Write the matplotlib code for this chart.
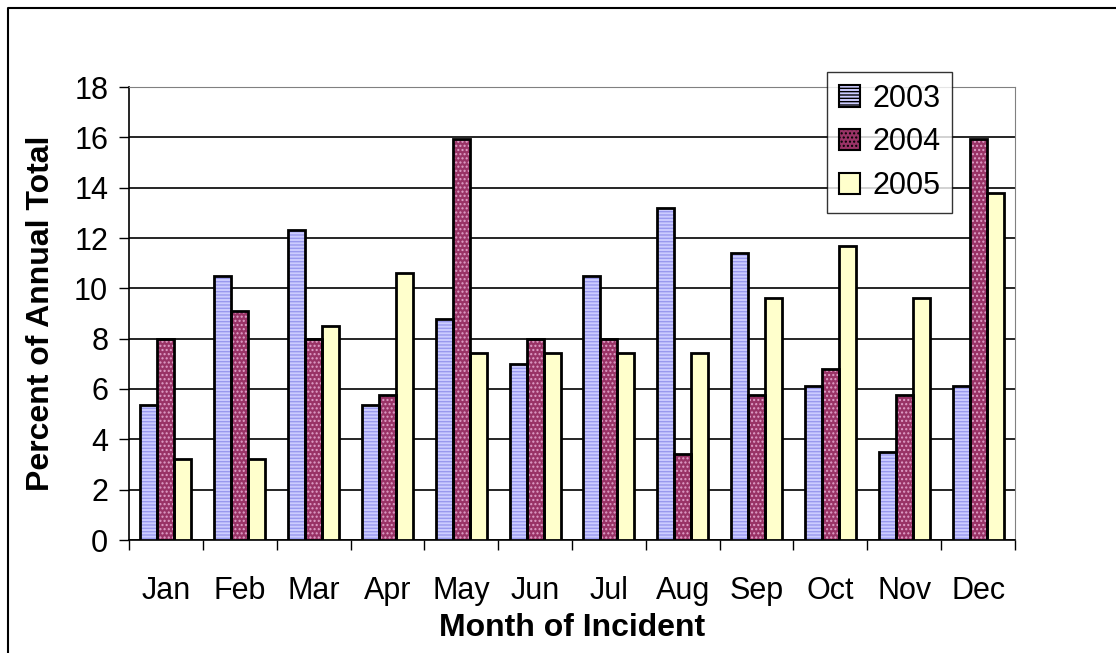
import numpy as np
import matplotlib
matplotlib.use("Agg")
import matplotlib.pyplot as plt
from matplotlib.patches import Patch
from matplotlib.lines import Line2D

plt.rcParams['font.family'] = ['Liberation Sans', 'DejaVu Sans']
plt.rcParams['hatch.linewidth'] = 1.0

miesiace = ["Jan", "Feb", "Mar", "Apr", "May", "Jun", "Jul", "Aug", "Sep", "Oct", "Nov", "Dec"]
lata = ["2003", "2004", "2005"]
procent2003 = [5.35, 10.5, 12.3, 5.35, 8.8, 7.0, 10.5, 13.2, 11.4, 6.1, 3.5, 6.1]
procent2004 = [8.0, 9.1, 8.0, 5.75, 15.95, 8.0, 8.0, 3.4, 5.75, 6.8, 5.75, 15.95]
procent2005 = [3.2, 3.2, 8.5, 10.6, 7.45, 7.45, 7.45, 7.45, 9.6, 11.7, 9.6, 13.8]

kolory = ["#ccccff", "#993366", "#ffffcc"]
kreskowanie = ["-----", "....", None]
kolorKresek = ["#9999ee", "#e0a0c8", None]

fig = plt.figure(figsize=(11.16, 6.53), dpi=100)
ax = fig.add_axes([129/1116, 1-540/653, (1015-129)/1116, (540-87)/653])

x = np.arange(len(miesiace))
w = 0.23
serie = [procent2003, procent2004, procent2005]
uchwyty = []
for i, dane in enumerate(serie):
    pos = x + (i-1)*w
    if kreskowanie[i]:
        ax.bar(pos, dane, w, color=kolory[i], hatch=kreskowanie[i], edgecolor=kolorKresek[i], linewidth=0, zorder=3)
    else:
        ax.bar(pos, dane, w, color=kolory[i], linewidth=0, zorder=3)
    ax.bar(pos, dane, w, fill=False, edgecolor="black", linewidth=2, zorder=4)
    uchwyty.append(Patch(facecolor=kolory[i], edgecolor="black", hatch=kreskowanie[i], linewidth=1.5, label=lata[i]))

ax.set_xlim(-0.5, 11.5)
ax.set_ylim(0, 18)
ax.set_yticks(range(0, 19, 2))
ax.yaxis.grid(True, color="black", linewidth=1.2, zorder=0)
ax.set_axisbelow(True)
ax.set_xticks(x)
ax.set_xticklabels(miesiace)
ax.set_xticks(np.arange(-0.5, 12, 1), minor=True)
ax.tick_params(axis="x", which="major", length=0, labelsize=22, pad=26)
ax.tick_params(axis="x", which="minor", length=7, width=1, direction="out")
ax.tick_params(axis="y", length=7, width=1, labelsize=22, pad=8)
for s in ["top", "right"]:
    ax.spines[s].set_color("#808080")
ax.spines["left"].set_linewidth(1.2)
ax.spines["bottom"].set_linewidth(1.2)

ax.set_xlabel("Month of Incident", fontsize=23, fontweight="bold", labelpad=5)
ax.set_ylabel("Percent of Annual Total", fontsize=23, fontweight="bold", labelpad=13)

leg = ax.legend(handles=uchwyty, loc="upper left", bbox_to_anchor=((827-129)/886, 1+15/453),
                fontsize=22, frameon=True, fancybox=False, edgecolor="black", handlelength=0.7,
                handleheight=0.7, handletextpad=0.4, labelspacing=0.45, borderpad=0.38,
                borderaxespad=0)
leg.get_frame().set_linewidth(1)
leg.set_zorder(10)

# ramka wykresu - tylko lewa i gorna krawedz widoczne
fig.lines.append(Line2D([8/1116, 8/1116, 1.0], [0.0, 1-8/653, 1-8/653], transform=fig.transFigure,
                        color="black", linewidth=1.5))

fig.savefig("out.png", dpi=100)
